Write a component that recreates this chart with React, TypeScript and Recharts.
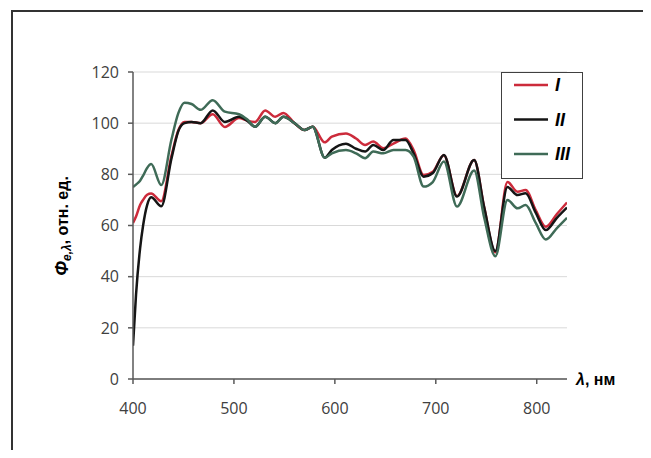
import React from "react";
import { CartesianGrid, Label, Legend, Line, LineChart, XAxis, YAxis } from "recharts";

// wavelength, nm
const wavelengths = [
  400, 403, 407, 410, 414, 418, 428, 438, 445, 451, 458, 467, 479, 491, 505, 513, 521, 531, 541, 549,
  560, 570, 578, 590, 597, 611, 621, 630, 638, 648, 658, 670, 678, 688, 697, 708, 721, 738, 748, 759,
  771, 781, 789, 799, 809, 820, 830,
];
// curve I (red)
const seriesI = [
  61, 63.5, 68, 70, 72, 72.5, 69.5, 87, 97.3, 100.5, 100.5, 100, 103.5, 98.5, 102, 101, 100.5, 105, 102.5, 104,
  100, 97.3, 98.6, 92.5, 94.7, 96, 94, 91.5, 92.8, 90.2, 92, 94, 89.5, 79.7, 81, 87.5, 71.5, 85.6, 67, 49.5,
  77, 73.2, 73.9, 66, 59.5, 64.5, 69,
];
// curve II (black)
const seriesII = [
  13, 33, 51, 60, 68, 71, 67.5, 86, 97, 100, 100.5, 100, 105, 100.5, 102.5, 101, 98.6, 102.5, 100, 102.5,
  100, 97.3, 98.6, 86.5, 89.5, 92, 90, 88.9, 91.5, 89.5, 93.4, 93.4, 88.2, 79.1, 80.5, 87.6, 71.3, 85.6, 67, 50,
  75, 71.9, 72.6, 65, 58.2, 63, 67,
];
// curve III (green)
const seriesIII = [
  75, 76, 77.5, 79.5, 82.5, 84, 75.8, 93.4, 104, 108, 107.5, 105.2, 109, 104.5, 103.5, 101.5, 98.6, 102.5, 100, 102.5,
  100, 97.3, 98.6, 86.5, 88.2, 89.5, 88.2, 86.3, 88.9, 88.2, 89.5, 89.5, 86.9, 75.2, 77, 85, 67.4, 81.5, 63, 48,
  70, 66.7, 68, 61, 54.5, 59, 63,
];
const xTicks = [400, 500, 600, 700, 800];
const yTicks = [0, 20, 40, 60, 80, 100, 120];

const chartData = wavelengths.map((nm, i) => ({
  nm,
  I: seriesI[i],
  II: seriesII[i],
  III: seriesIII[i],
}));

const tickStyle = { fontSize: 16, fill: "#404040", fontFamily: "Open Sans" };

const renderLegend = (props: any) => {
  const items = props.payload || [];
  return (
    <div
      style={{
        width: 82,
        height: 107,
        boxSizing: "border-box",
        border: "1.5px solid #404040",
        background: "#fff",
      }}
    >
      <svg width={79} height={104}>
        {items.map((it: any, i: number) => (
          <g key={it.value}>
            <line x1={12} x2={46} y1={12 + i * 34.5} y2={12 + i * 34.5} stroke={it.color} strokeWidth={2.5} />
            <text
              x={53}
              y={12 + i * 34.5}
              dy="0.36em"
              fontSize={18}
              fontWeight="bold"
              fontStyle="italic"
              fontFamily="Liberation Sans"
              fill="#000"
            >
              {it.value}
            </text>
          </g>
        ))}
      </svg>
    </div>
  );
};

const YTitle = () => {
  const cx = 62;
  const cy = 226;
  return (
    <text
      x={cx}
      y={cy}
      transform={`rotate(-90, ${cx}, ${cy})`}
      textAnchor="middle"
      dominantBaseline="central"
      fontSize={16}
      fontWeight="bold"
      fontFamily="Liberation Sans"
      fill="#000"
    >
      <tspan fontStyle="italic" fontSize={18}>Φ</tspan>
      <tspan fontStyle="italic" fontSize={12} dy={5}>e,λ</tspan>
      <tspan dy={-5}>, отн. ед.</tspan>
    </text>
  );
};

const XTitle = (props: any) => {
  const vb = props.viewBox;
  return (
    <text
      x={vb.x + vb.width + 9}
      y={vb.y}
      dy="0.36em"
      fontSize={16}
      fontWeight="bold"
      fontFamily="Liberation Sans"
      fill="#000"
    >
      <tspan fontStyle="italic">λ</tspan>, нм
    </text>
  );
};

export default function App() {
  return (
    <div style={{ position: "relative", width: 651, height: 458, margin: -8, background: "#fff" }}>
      <div
        style={{
          position: "absolute",
          left: 11,
          top: 10,
          width: 640,
          height: 448,
          borderTop: "2px solid #333",
          borderLeft: "2px solid #333",
        }}
      />
      <div style={{ position: "absolute", left: 0, top: 0 }}>
        <LineChart width={651} height={458} data={chartData} margin={{ top: 72, right: 84, bottom: 49, left: 93 }}>
          <CartesianGrid vertical={false} stroke="#d9d9d9" strokeWidth={1} />
          <XAxis
            dataKey="nm"
            type="number"
            domain={[400, 830]}
            ticks={xTicks}
            height={30}
            tickSize={5}
            tickMargin={19}
            tick={tickStyle}
            stroke="#595959"
            strokeWidth={1.5}
            allowDataOverflow
          >
            <Label content={<XTitle />} />
          </XAxis>
          <YAxis
            type="number"
            domain={[0, 120]}
            ticks={yTicks}
            width={40}
            tickSize={5}
            tickMargin={9}
            tick={tickStyle}
            stroke="#595959"
            strokeWidth={1.5}
          >
            <Label content={<YTitle />} />
          </YAxis>
          <Legend
            layout="vertical"
            align="center"
            verticalAlign="middle"
            content={renderLegend}
            wrapperStyle={{ left: 501, top: 72, width: 82, height: 107 }}
          />
          <Line type="monotone" dataKey="I" name="I" stroke="#cc2b3b" strokeWidth={2.5} dot={false} isAnimationActive={false} />
          <Line type="monotone" dataKey="II" name="II" stroke="#151515" strokeWidth={2.5} dot={false} isAnimationActive={false} />
          <Line type="monotone" dataKey="III" name="III" stroke="#3f6b57" strokeWidth={2.5} dot={false} isAnimationActive={false} />
        </LineChart>
      </div>
    </div>
  );
}
